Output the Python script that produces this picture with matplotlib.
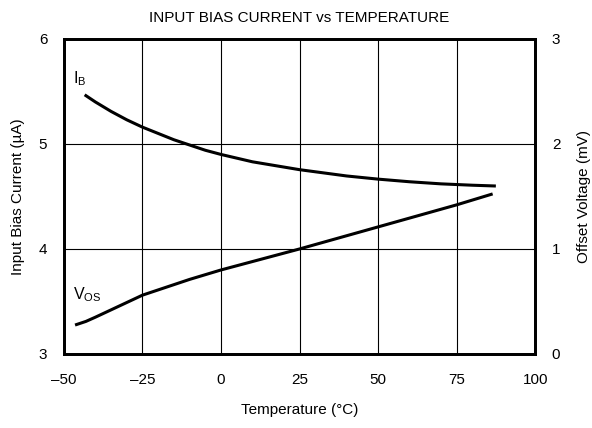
import matplotlib.pyplot as plt

plt.rcParams['font.family'] = ['Liberation Sans', 'DejaVu Sans']
plt.rcParams['mathtext.fontset'] = 'custom'
plt.rcParams['mathtext.rm'] = 'Liberation Sans'

# Input bias current (uA) vs temperature
temp_ib = [-43, -40, -35, -30, -25, -20, -15, -10, -5, 0, 10, 20, 25, 30, 40, 50, 60, 70, 80, 87]
ib = [5.46, 5.40, 5.31, 5.23, 5.16, 5.10, 5.04, 4.99, 4.94, 4.90, 4.83, 4.78,
      4.755, 4.735, 4.695, 4.665, 4.64, 4.62, 4.607, 4.60]

# Offset voltage (mV) vs temperature
temp_vos = [-46, -43, -40, -35, -30, -25, -20, -10, 0, 10, 25, 50, 75, 86]
vos = [0.28, 0.31, 0.35, 0.42, 0.49, 0.56, 0.61, 0.71, 0.80, 0.88, 1.00, 1.21, 1.42, 1.52]

x_ticks = [-50, -25, 0, 25, 50, 75, 100]
x_labels = ['\u201350', '\u201325', '0', '25', '50', '75', '100']

fig = plt.figure(figsize=(5.92, 4.28), dpi=100)
ax = fig.add_axes([0.108, 0.173, 0.796, 0.736])
ax2 = ax.twinx()

ax.plot(temp_ib, ib, color='black', lw=2.2)
ax2.plot(temp_vos, vos, color='black', lw=2.2)

ax.set_xlim(-50, 100)
ax.set_ylim(3, 6)
ax2.set_ylim(0, 3)
ax.set_xticks(x_ticks)
ax.set_xticklabels(x_labels)
ax.set_yticks([3, 4, 5, 6])
ax2.set_yticks([0, 1, 2, 3])
ax.grid(True, color='black', lw=0.8)
ax.tick_params(axis='x', length=0, labelsize=11, pad=14)
ax.tick_params(axis='y', length=0, labelsize=11, pad=12)
ax2.tick_params(length=0, labelsize=11, pad=12)

for a in (ax, ax2):
    for s in a.spines.values():
        s.set_linewidth(2)

ax.set_xlabel('Temperature (\u00b0C)', fontsize=11, labelpad=11)
ax.set_ylabel('Input Bias Current (\u00b5A)', fontsize=11, labelpad=10)
ax2.set_ylabel('Offset Voltage (mV)', fontsize=11, labelpad=12)
ax.set_title('INPUT BIAS CURRENT vs TEMPERATURE', fontsize=11, pad=12)

ax.text(-47, 5.58, r'$\mathregular{I_B}$', fontsize=11.5)
ax2.text(-47, 0.52, r'$\mathregular{V_{OS}}$', fontsize=11.5)

fig.savefig('out.png', dpi=100)
